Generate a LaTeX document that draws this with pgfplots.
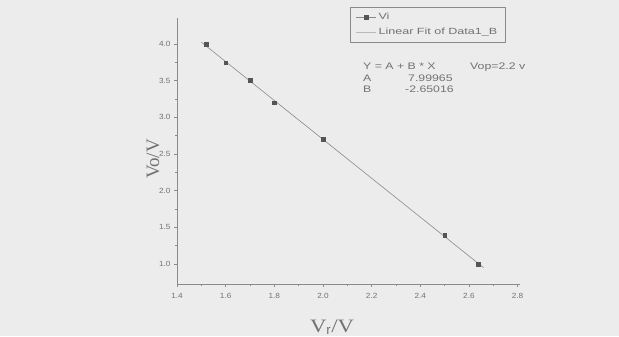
\documentclass[border=0pt]{standalone}
\usepackage{pgfplots}
\pgfplotsset{compat=1.18}
\usepackage{fontspec}
\setmainfont{Liberation Sans}
\newfontfamily\seriffont[FakeStretch=1.2]{Liberation Serif}
\newfontfamily\yseriffont{Liberation Serif}
\newfontfamily\widefont[FakeStretch=1.3]{Liberation Sans}
\newfontfamily\legfont[FakeStretch=1.4]{Liberation Sans}
\newfontfamily\tickfont[FakeStretch=1.1]{Liberation Sans}
\definecolor{bg}{HTML}{ECECEC}
\definecolor{ax}{HTML}{8A8A8A}
\definecolor{txt}{HTML}{727272}
\definecolor{mk}{HTML}{555555}
\begin{document}
\begin{tikzpicture}[x=1bp,y=1bp]
\fill[bg] (0,0) rectangle (619,336);
\useasboundingbox (0,0) rectangle (619,336);
\begin{axis}[
  at={(177bp,52bp)}, anchor=origin,
  scale only axis, width=343bp, height=266bp,
  xmin=1.4, xmax=2.81, ymin=0.727, ymax=4.355,
  axis x line*=bottom, axis y line*=left,
  axis line style={ax, line width=0.9pt},
  xtick={1.4,1.6,...,2.8},
  ytick={1.0,1.5,...,4.0},
  minor x tick num=1, minor y tick num=1,
  tick align=outside,
  major tick length=3bp, minor tick length=2bp,
  tick style={ax, line width=0.6pt},
  xticklabel style={/pgf/number format/.cd, fixed, fixed zerofill, precision=1},
  yticklabel style={/pgf/number format/.cd, fixed, fixed zerofill, precision=1},
  /pgf/number format/assume math mode=true,
  ticklabel style={font=\tickfont\fontsize{7.5}{8}\selectfont, text=txt},
  xticklabel shift=3bp,
  clip=false,
  xlabel={\seriffont V$_{\mathrm{r}}$/V},
  ylabel={\yseriffont Vo/V},
  xlabel style={font=\fontsize{19}{20}\selectfont, text=txt, at={(axis description cs:0.452,0)}, anchor=north, yshift=-32bp},
  ylabel style={font=\fontsize{19}{20}\selectfont, text=txt, at={(axis description cs:0,0.47)}, anchor=south, yshift=14bp},
  legend style={at={(0.504,1.041)}, anchor=north west, draw=ax, fill=bg,
    font=\legfont\fontsize{9}{10}\selectfont, text=txt, inner xsep=6bp, inner ysep=4bp, row sep=3bp,
    cells={anchor=west}},
]
\addplot[only marks, mark=square*, mark size=1.8bp, mk,
  legend image code/.code={
    \draw[ax, line width=0.5pt] (0bp,0bp) -- (20bp,0bp);
    \fill[mk] (10bp-1.8bp,-1.8bp) rectangle (10bp+1.8bp,1.8bp);}]
  coordinates {
  (1.52,4.00) (1.60,3.745) (1.70,3.505) (1.80,3.20) (2.00,2.70) (2.50,1.39) (2.637,1.00)
};
\addlegendentry{Vi}
\addplot[ax, line width=0.6pt,
  legend image code/.code={\draw[ax!60, line width=0.4pt] (0bp,0bp) -- (20bp,0bp);}]
  coordinates {(1.50,4.0252) (2.66,0.9502)};
\addlegendentry{Linear Fit of Data1\_B}
\end{axis}
\begin{scope}[every node/.style={font=\widefont\fontsize{9.5}{10}\selectfont, text=txt, anchor=base west, inner sep=0}]
\node at (363,267) {Y = A + B * X};
\node at (470,267) {Vop=2.2 v};
\node at (363,255) {A};
\node at (408,255) {7.99965};
\node at (363,244) {B};
\node at (405,244) {-2.65016};
\end{scope}
\end{tikzpicture}
\end{document}
